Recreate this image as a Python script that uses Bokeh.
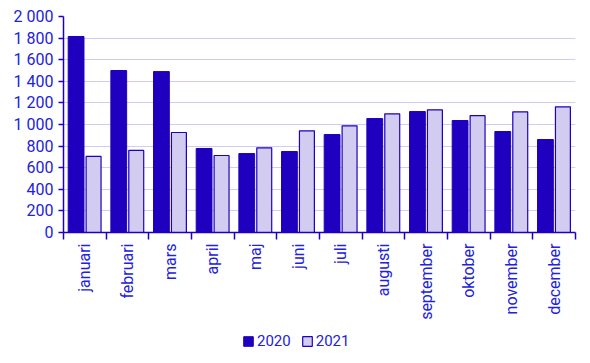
import math
from bokeh.plotting import figure
from bokeh.layouts import column
from bokeh.models import ColumnDataSource, FixedTicker, Legend, LegendItem, Range1d
from bokeh.embed import file_html
from bokeh.resources import INLINE

months = ["januari", "februari", "mars", "april", "maj", "juni", "juli",
          "augusti", "september", "oktober", "november", "december"]
values_2020 = [1815, 1500, 1490, 778, 731, 750, 907, 1055, 1120, 1037, 935, 861]
values_2021 = [704, 760, 926, 713, 784, 941, 988, 1099, 1136, 1083, 1117, 1164]
y_ticks = [0, 200, 400, 600, 800, 1000, 1200, 1400, 1600, 1800, 2000]
series_names = ["2020", "2021"]

DARK = "#1e00be"
LIGHT = "#d2ccf0"
TEXT = "#2222dd"
GRID = "#d2ccf0"
FONT = "Roboto"
W = 582

centers = [i + 0.5 for i in range(len(months))]
bounds = [float(i) for i in range(len(months) + 1)]

src = ColumnDataSource(dict(
    x20=[c - 0.205 for c in centers],
    x21=[c + 0.205 for c in centers],
    v20=values_2020,
    v21=values_2021,
))

p = figure(width=W, height=324, output_backend="svg", toolbar_location=None,
           x_range=Range1d(0, 12), y_range=Range1d(0, 2000),
           min_border_left=63, min_border_right=7, min_border_top=16,
           min_border_bottom=92)
p.outline_line_color = None

p.vbar(x="x20", top="v20", width=0.37, source=src, fill_color=DARK,
       line_color=DARK, line_width=1)
p.vbar(x="x21", top="v21", width=0.35, source=src, fill_color=LIGHT,
       line_color=DARK, line_width=1.2)

p.xgrid.grid_line_color = None
p.ygrid.grid_line_color = GRID
p.ygrid.grid_line_width = 1

# x axis
xa = p.xaxis[0]
xa.ticker = FixedTicker(ticks=centers, minor_ticks=bounds)
xa.major_label_overrides = {c: m for c, m in zip(centers, months)}
xa.major_label_orientation = math.pi / 2
xa.major_tick_out = 0
xa.major_tick_in = 0
xa.minor_tick_out = 7
xa.minor_tick_in = 0
xa.minor_tick_line_color = DARK
xa.axis_line_color = DARK
xa.axis_line_width = 1.5
xa.minor_tick_line_width = 1.5
xa.major_label_text_color = TEXT
xa.major_label_text_font = FONT
xa.major_label_text_font_size = "16px"
xa.major_label_standoff = 4

# y axis
ya = p.yaxis[0]
ya.ticker = FixedTicker(ticks=y_ticks)
ya.major_label_overrides = {t: (f"{t:,}".replace(",", " ")) for t in y_ticks}
ya.major_tick_out = 5
ya.major_tick_in = 0
ya.minor_tick_line_color = None
ya.axis_line_color = DARK
ya.axis_line_width = 1.5
ya.major_tick_line_color = DARK
ya.major_tick_line_width = 1.5
ya.major_label_text_color = TEXT
ya.major_label_text_font = FONT
ya.major_label_text_font_size = "16px"
ya.major_label_standoff = 5

# legend strip (proxy renderers kept outside the visible range)
lp = figure(width=W, height=39, output_backend="svg", toolbar_location=None,
            x_range=Range1d(0, 1), y_range=Range1d(0, 1),
            x_axis_type=None, y_axis_type=None, min_border=0)
lp.outline_line_color = None
lp.xgrid.grid_line_color = None
lp.ygrid.grid_line_color = None
proxy = ColumnDataSource(dict(x=[-5.0], top=[-5.0]))
l20 = lp.vbar(x="x", top="top", width=0.1, source=proxy, fill_color=DARK,
              line_color=DARK, line_width=1)
l21 = lp.vbar(x="x", top="top", width=0.1, source=proxy, fill_color=LIGHT,
              line_color=DARK, line_width=1.2)
legend = Legend(items=[LegendItem(label=series_names[0], renderers=[l20]),
                       LegendItem(label=series_names[1], renderers=[l21])],
                orientation="horizontal", location=(179, 13),
                border_line_color=None, background_fill_alpha=0,
                label_text_color=TEXT, label_text_font=FONT,
                label_text_font_size="15px", glyph_width=12, glyph_height=12,
                label_standoff=3, spacing=10, padding=2, margin=0)
lp.add_layout(legend, "center")

layout = column(p, lp, spacing=0)
open("out.html", "w").write(file_html(layout, INLINE))
